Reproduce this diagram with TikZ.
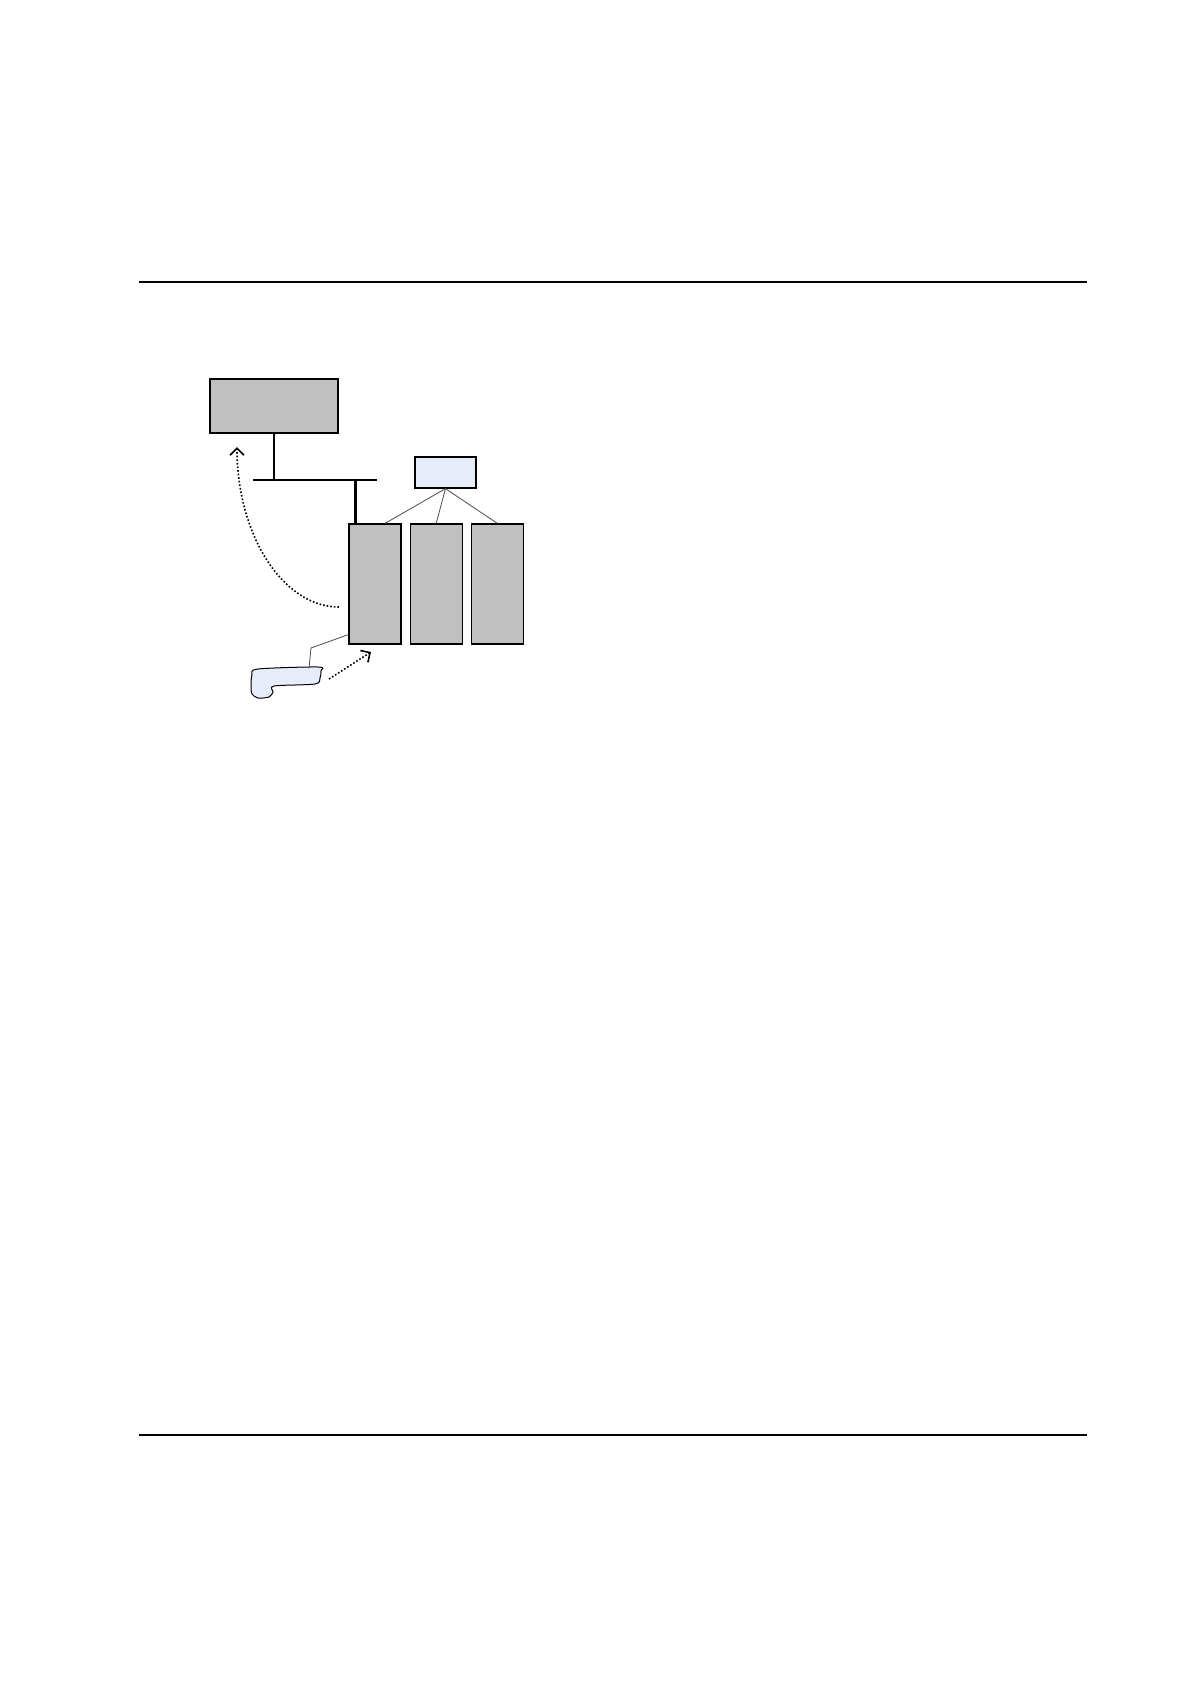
\documentclass[tikz,border=0pt]{standalone}
\usepackage{xcolor}
\usetikzlibrary{positioning,arrows.meta}
\definecolor{boxgray}{RGB}{192,192,192}
\definecolor{paleblue}{RGB}{231,237,248}

\begin{document}
\begin{tikzpicture}[x=0.5pt,y=-0.5pt,
    unit/.style={rectangle,draw,fill=boxgray,line width=0.6pt,minimum width=26pt,minimum height=60pt,inner sep=0pt},
    link/.style={draw=black!70,line width=0.4pt},
    bus/.style={line width=1.2pt},
    hint/.style={densely dotted,line width=0.8pt,-{Straight Barb[length=3.5pt,width=7pt]}}]
    \useasboundingbox (0,0) rectangle (1191,1683);
    % page rules
    \draw[line width=1pt] (139,282) -- (1087,282);
    \draw[line width=1pt] (139,1435) -- (1087,1435);
    % top unit and bus
    \node[rectangle,draw,fill=boxgray,line width=0.6pt,minimum width=64pt,minimum height=27pt,inner sep=0pt] (host) at (274,406) {};
    \coordinate (busL) at (253,480);
    \coordinate (busR) at (377,480);
    \draw[bus] (busL) -- (busR);
    \draw[bus] (host.south) -- (host.south |- busL);
    % cabinets
    \node[unit] (b1) at (375,584) {};
    \node[unit,right=4pt of b1] (b2) {};
    \node[unit,right=4pt of b2] (b3) {};
    \draw[bus] ([xshift=3.5pt]b1.north west) -- ([xshift=3.5pt]b1.north west |- busL);
    % controller box
    \node[rectangle,draw,fill=paleblue,line width=0.6pt,minimum width=30.5pt,minimum height=15.5pt,inner sep=0pt] (ctrl) at (445.5,472.5) {};
    \draw[link] (ctrl.south) -- ([xshift=5pt]b1.north);
    \draw[link] (ctrl.south) -- (b2.north);
    \draw[link] (ctrl.south) -- (b3.north);
    % loose piece
    \draw[line width=0.5pt,fill=paleblue] plot[smooth cycle,tension=0.5] coordinates {
        (258,669) (318,667) (321,671) (320,678) (315,684) (274,686)
        (273,692) (269,697) (258,698) (252,694) (251,686) (252,675)};
    \coordinate (tag) at (309,668);
    \draw[link] (tag) -- (311,648) -- ([yshift=5pt]b1.south west);
    % dotted hints
    \coordinate (arcstart) at (339,607);
    \coordinate (arcend) at (237,447);
    \draw[hint] (arcstart) .. controls (283,607) and (237,535) .. (arcend);
    \coordinate (pushstart) at (329,679);
    \coordinate (pushend) at (371,652);
    \draw[hint] (pushstart) -- (pushend);
\end{tikzpicture}
\end{document}
